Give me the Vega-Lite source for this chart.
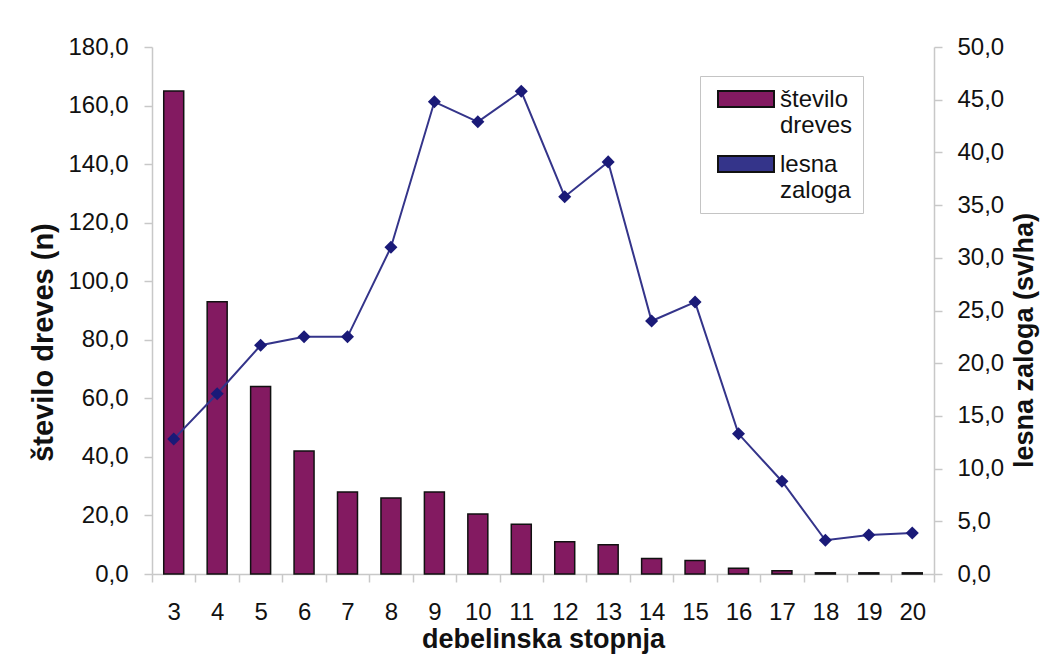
{
  "$schema": "https://vega.github.io/schema/vega-lite/v6.json",
  "width": 782,
  "height": 527,
  "autosize": {"type": "none"},
  "padding": {"left": 152, "top": 47, "right": 110, "bottom": 94},
  "background": "white",
  "data": {
    "values": [
      {"stopnja": 3, "stevilo": 165, "zaloga": 12.8},
      {"stopnja": 4, "stevilo": 93, "zaloga": 17.1},
      {"stopnja": 5, "stevilo": 64, "zaloga": 21.7},
      {"stopnja": 6, "stevilo": 42, "zaloga": 22.5},
      {"stopnja": 7, "stevilo": 28, "zaloga": 22.5},
      {"stopnja": 8, "stevilo": 26, "zaloga": 31.0},
      {"stopnja": 9, "stevilo": 28, "zaloga": 44.8},
      {"stopnja": 10, "stevilo": 20.5, "zaloga": 42.9},
      {"stopnja": 11, "stevilo": 17, "zaloga": 45.8},
      {"stopnja": 12, "stevilo": 11, "zaloga": 35.8},
      {"stopnja": 13, "stevilo": 10, "zaloga": 39.1},
      {"stopnja": 14, "stevilo": 5.3, "zaloga": 24.0},
      {"stopnja": 15, "stevilo": 4.6, "zaloga": 25.8},
      {"stopnja": 16, "stevilo": 2, "zaloga": 13.3},
      {"stopnja": 17, "stevilo": 1.1, "zaloga": 8.8},
      {"stopnja": 18, "stevilo": 0.4, "zaloga": 3.2},
      {"stopnja": 19, "stevilo": 0.4, "zaloga": 3.7},
      {"stopnja": 20, "stevilo": 0.4, "zaloga": 3.9}
    ]
  },
  "encoding": {
    "x": {
      "field": "stopnja",
      "type": "ordinal",
      "scale": {"paddingInner": 0, "paddingOuter": 0},
      "axis": {
        "title": "debelinska stopnja",
        "labelAngle": 0,
        "tickBand": "extent",
        "labelPadding": 18,
        "titlePadding": 2,
        "titleFontSize": 27
      }
    }
  },
  "layer": [
    {
      "mark": {"type": "bar", "width": {"band": 0.46}, "stroke": "#111111", "strokeWidth": 1.5},
      "encoding": {
        "y": {
          "field": "stevilo",
          "type": "quantitative",
          "scale": {"domain": [0, 180], "nice": false},
          "axis": {
            "title": "število dreves (n)",
            "values": [0, 20, 40, 60, 80, 100, 120, 140, 160, 180],
            "labelExpr": "replace(format(datum.value, '.1f'), '.', ',')",
            "labelPadding": 16,
            "titlePadding": 9,
            "titleFontSize": 29,
            "titleY": 295
          }
        },
        "color": {
          "datum": "število dreves",
          "scale": {
            "domain": ["število dreves", "lesna zaloga"],
            "range": ["#831a61", "#34348a"]
          },
          "legend": {
            "title": null,
            "orient": "none",
            "legendX": 548,
            "legendY": 29,
            "padding": 10,
            "strokeColor": "#c4c4c4",
            "fillColor": "white",
            "symbolType": "M-0.65,-0.8H2.15V0H-0.65Z",
            "symbolSize": 1600,
            "symbolStrokeWidth": 2,
            "symbolOpacity": 1,
            "labelFont": "Liberation Sans",
            "labelFontSize": 24,
            "labelColor": "#111111",
            "labelOffset": 28,
            "labelBaseline": "alphabetic",
            "rowPadding": 13,
            "labelExpr": "datum.label == 'število dreves' ? ['število', 'dreves'] : ['lesna', 'zaloga']"
          }
        }
      }
    },
    {
      "layer": [
        {
          "mark": {"type": "line", "strokeWidth": 2, "color": "#34348a"},
          "encoding": {
            "y": {
              "field": "zaloga",
              "type": "quantitative",
              "scale": {"domain": [0, 50], "nice": false},
              "axis": {
                "orient": "right",
                "title": "lesna zaloga (sv/ha)",
                "values": [0, 5, 10, 15, 20, 25, 30, 35, 40, 45, 50],
                "labelExpr": "replace(format(datum.value, '.1f'), '.', ',')",
                "labelPadding": 15,
                "titlePadding": 8,
                "titleAngle": 270,
                "titleBaseline": "top",
                "titleY": 293
              }
            }
          }
        },
        {
          "mark": {"type": "point", "shape": "diamond", "filled": true, "size": 170, "color": "#1a1a78", "opacity": 1},
          "encoding": {
            "y": {"field": "zaloga", "type": "quantitative"}
          }
        }
      ]
    }
  ],
  "resolve": {"scale": {"y": "independent"}},
  "config": {
    "view": {"stroke": null},
    "axis": {
      "grid": false,
      "domainColor": "#c8c8c8",
      "domainWidth": 1.5,
      "tickColor": "#c8c8c8",
      "tickWidth": 1.5,
      "tickSize": 8,
      "labelFont": "Liberation Sans",
      "labelFontSize": 24,
      "labelColor": "#111111",
      "titleFont": "Liberation Sans",
      "titleFontSize": 27,
      "titleFontWeight": "bold",
      "titleColor": "#111111"
    }
  }
}
